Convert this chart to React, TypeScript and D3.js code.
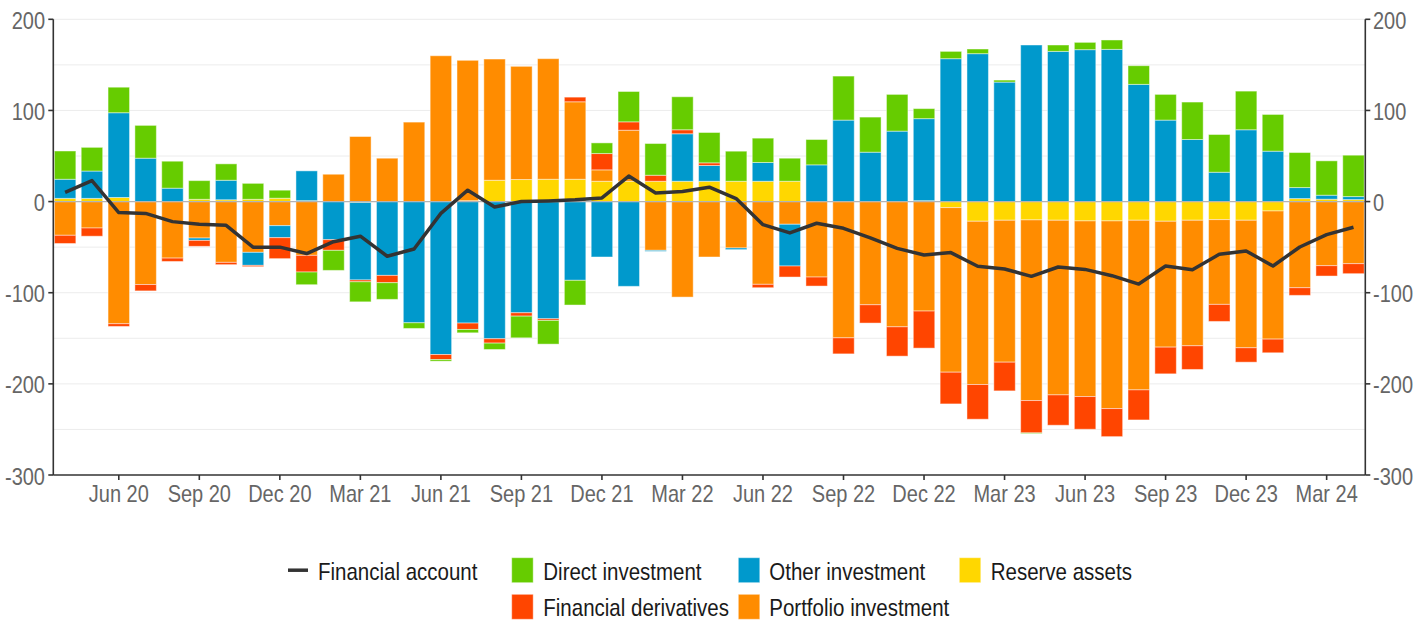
import * as d3 from "d3";

// monthly, Apr 2020 .. Apr 2024
const months = d3.timeMonth.range(new Date(2020, 3, 1), new Date(2024, 4, 1));

const reserveAssets = [
  3.5, 3.5, 4.5, 0, 0, 2.5, 2, 2.5, 3.7, 1, 0, -1, 0, 0, 0, 1, 23.4, 24.2, 24.5, 24.5, 22.3, 22.3, 22.3, 22.3, 22.3,
  22.3, 22.3, 22.3, 0, 0, 0, 0, 1, -6.6, -21.6, -20.5, -20.1, -20.5, -21.2, -21.2, -20.5, -21.6, -20.5, -19.8, -20.5,
  -10.3, 3.3, 2.6, 2.2,
];
const portfolioInvestment = [
  -37, -29, -134, -91, -62, -40, -66.7, -55.7, -26.4, -59, 30, 71.4, 47.6, 87.2, 160, 154, 133, 124.2, 132.3, 85, 12.5,
  56, -53.5, -104.8, -60.8, -50.9, -90.8, -24.9, -82.8, -149.5, -113.2, -137.4, -120.1, -180.6, -179.1, -155.7, -198.2,
  -191.6, -192.7, -205.9, -186.1, -138.1, -137.7, -93, -139.9, -140.6, -94.5, -70.3, -68.1,
];
const otherInvestment = [
  21, 30, 93, 47.6, 14.7, -2.6, 21.4, -14.3, -13.2, 32.7, -41.8, -85, -81, -133, -167.8, -133.3, -150.5, -122, -128.6,
  -86.4, -60.8, -93, -1.1, 52.1, 17.3, -1.8, 20.6, -45.8, 40.3, 89.4, 54.2, 77.3, 90, 156.8, 162.3, 131.1, 171.8, 164.8,
  166.7, 167, 128.6, 89.4, 68.1, 32.2, 78.8, 55.3, 12.1, 4.4, 3.3,
];
const financialDerivatives = [
  -9, -9, -3, -7, -3.7, -6.5, -2.5, -1.4, -23, -18.3, -11.7, -2, -8, 0, -5.5, -7, -4.8, -3.7, -1.8, 5.1, 17.9, 9.2, 6.6,
  4.4, 2.9, 0, -3.7, -12.1, -9.9, -17.6, -20.1, -32.2, -40.7, -34.8, -38.1, -31.5, -35.5, -33.3, -35.9, -30.8, -33,
  -29.3, -26, -18.7, -15.8, -15, -8.4, -11.4, -11,
];
const directInvestment = [
  31, 26, 28, 36, 29.6, 20.5, 18, 17.5, 8.8, -13.9, -22, -22, -18.3, -6.2, -1.8, -3.7, -7, -23.8, -26, -27.1, 11.7, 33.3,
  34.8, 36.2, 33.3, 33, 26.7, 25.3, 27.8, 48.3, 38.5, 40.3, 11, 8, 5.1, 2.2, -0.7, 7, 8, 10.3, 20.5, 28.2, 41.1, 41.4,
  42.4, 40.3, 38.4, 37.7, 45.4,
];
const financialAccount = [
  10, 23, -12, -13, -22, -25, -26, -50, -50, -57, -44, -38, -60, -52, -13, 12.5, -6, 0, 0.7, 2, 4, 28, 9.5, 11, 15.8,
  3.3, -25.3, -34.4, -23.8, -29.3, -39.9, -51.3, -58.6, -56, -71, -74, -82, -71.8, -74.4, -81.3, -90.5, -70.7, -74.7,
  -57.9, -54.2, -70.7, -49.8, -36.3, -28.2,
];

const yTicks = [200, 100, 0, -100, -200, -300];
const gridValues = [200, 150, 100, 50, -50, -100, -150, -200, -250];

const stackKeys = ["reserve", "portfolio", "other", "derivatives", "direct"];
const colors: Record<string, string> = {
  direct: "#66cc00",
  other: "#0099cc",
  reserve: "#ffd700",
  derivatives: "#ff4500",
  portfolio: "#ff8c00",
};

const W = 1426;
const H = 621;
const left = 53.3;
const right = 1365.3;
const font = "'Liberation Sans', Arial, sans-serif";
const stretch = 1.17;

function Txt({ x, y, anchor = "start", fill = "#666", size = 20, children }: any) {
  return (
    <text
      transform={`translate(${x},${y}) scale(1,${stretch})`}
      textAnchor={anchor}
      fill={fill}
      fontSize={size}
      fontFamily={font}
    >
      {children}
    </text>
  );
}

export default function App() {
  const rows = months.map((m, i) => ({
    i,
    reserve: reserveAssets[i],
    portfolio: portfolioInvestment[i],
    other: otherInvestment[i],
    derivatives: financialDerivatives[i],
    direct: directInvestment[i],
  }));

  const x = d3
    .scaleBand<number>()
    .domain(rows.map((r) => r.i))
    .range([left, right])
    .paddingInner(0.2)
    .paddingOuter(0.04);
  const y = d3.scaleLinear().domain([-300, 200]).range([475, 19.3]);

  const stacked = d3.stack<any>().keys(stackKeys).offset(d3.stackOffsetDiverging)(rows);

  const line = d3
    .line<number>()
    .x((_, i) => x(i)! + x.bandwidth() / 2)
    .y((d) => y(d));

  const fmt = d3.timeFormat("%b %y");
  const xTicks = months.map((m, i) => ({ m, i })).filter((d) => d.m.getMonth() % 3 === 2);

  // legend layout
  const legend = [
    { key: "line", label: "Financial account", sx: 288, tx: 318, row: 0 },
    { key: "direct", label: "Direct investment", sx: 511.7, tx: 543.3, row: 0 },
    { key: "other", label: "Other investment", sx: 738.3, tx: 769.3, row: 0 },
    { key: "reserve", label: "Reserve assets", sx: 959.3, tx: 990.7, row: 0 },
    { key: "derivatives", label: "Financial derivatives", sx: 511.7, tx: 543.3, row: 1 },
    { key: "portfolio", label: "Portfolio investment", sx: 738.3, tx: 769.3, row: 1 },
  ];

  return (
    <svg
      width={W}
      height={H}
      style={{ position: "absolute", left: 0, top: 0, background: "#fff" }}
    >
      {/* grid */}
      {gridValues.map((v) => (
        <line key={v} x1={left} x2={right} y1={y(v)} y2={y(v)} stroke="#ececec" strokeWidth={1} />
      ))}

      {/* bars */}
      {stacked.map((s) => (
        <g key={s.key} fill={colors[s.key]}>
          {s.map((d, i) =>
            d[1] - d[0] === 0 ? null : (
              <rect
                key={i}
                x={x(i)}
                width={x.bandwidth()}
                y={y(Math.max(d[0], d[1]))}
                height={Math.abs(y(d[0]) - y(d[1]))}
                stroke="rgba(255,255,255,0.45)"
                strokeWidth={1}
              />
            )
          )}
        </g>
      ))}

      {/* zero line */}
      <line x1={left} x2={right} y1={y(0)} y2={y(0)} stroke="#b4b4b4" strokeWidth={1.2} />

      {/* net financial account */}
      <path
        d={line(financialAccount) || ""}
        fill="none"
        stroke="#333"
        strokeWidth={3.5}
        strokeLinejoin="round"
      />

      {/* axes */}
      <g stroke="#333" strokeWidth={1.6}>
        <line x1={left} x2={left} y1={y(200)} y2={y(-300)} />
        <line x1={right} x2={right} y1={y(200)} y2={y(-300)} />
        <line x1={left} x2={right} y1={y(-300)} y2={y(-300)} />
        {yTicks.map((v) => (
          <g key={v}>
            <line x1={left - 5} x2={left} y1={y(v)} y2={y(v)} />
            <line x1={right} x2={right + 5} y1={y(v)} y2={y(v)} />
          </g>
        ))}
        {xTicks.map((t) => (
          <line
            key={t.i}
            x1={x(t.i)! + x.bandwidth() / 2}
            x2={x(t.i)! + x.bandwidth() / 2}
            y1={y(-300)}
            y2={y(-300) + 5}
          />
        ))}
      </g>
      {yTicks.map((v) => (
        <g key={v}>
          <Txt x={45} y={y(v) + 9.5} anchor="end">
            {v}
          </Txt>
          <Txt x={1373} y={y(v) + 9.5}>
            {v}
          </Txt>
        </g>
      ))}
      {xTicks.map((t) => (
        <Txt key={t.i} x={x(t.i)! + x.bandwidth() / 2} y={502} anchor="middle">
          {fmt(t.m)}
        </Txt>
      ))}

      {/* legend */}
      {legend.map((l) => {
        const top = l.row === 0 ? 557.7 : 594.3;
        return (
          <g key={l.key}>
            {l.key === "line" ? (
              <line x1={l.sx} x2={l.sx + 20} y1={top + 12.5} y2={top + 12.5} stroke="#333" strokeWidth={3.5} />
            ) : (
              <rect x={l.sx} y={top} width={21.5} height={25} fill={colors[l.key]} stroke="rgba(255,255,255,0.45)" />
            )}
            <Txt x={l.tx} y={top + 21.8} fill="#1a1a1a" size={20.5}>
              {l.label}
            </Txt>
          </g>
        );
      })}
    </svg>
  );
}
